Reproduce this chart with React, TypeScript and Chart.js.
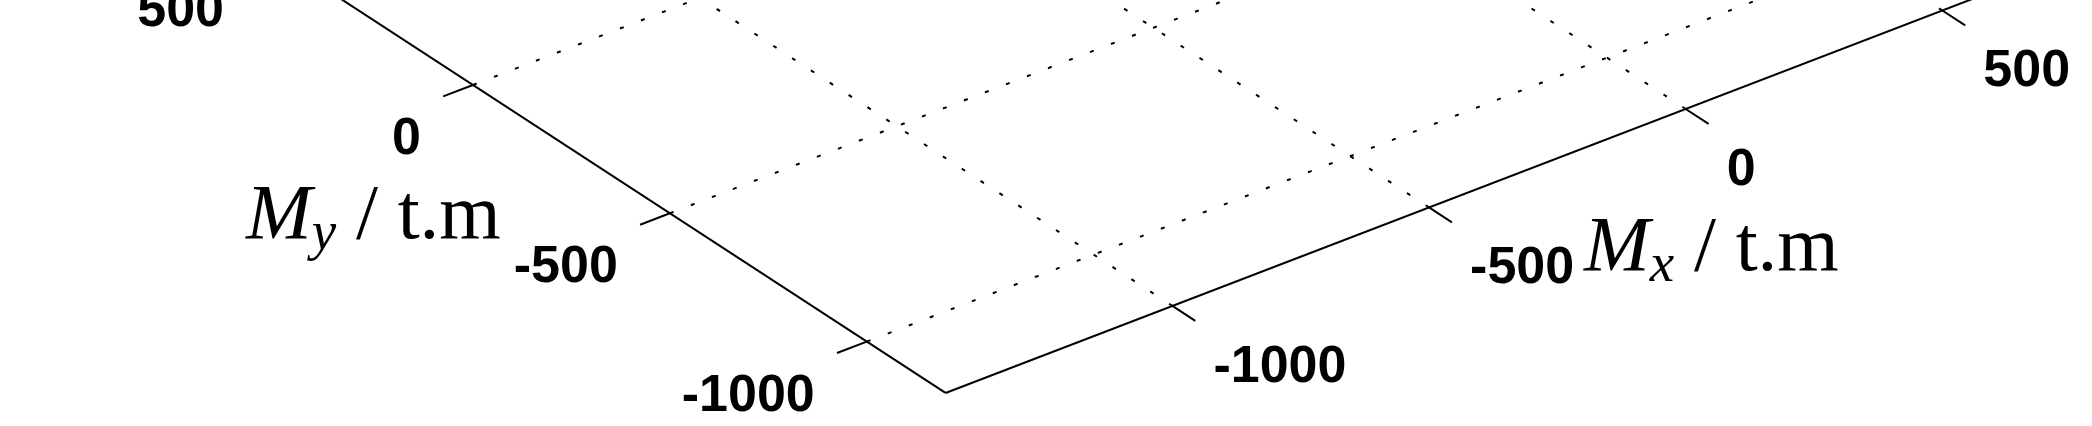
import React, { useEffect, useRef } from "react";
import { Chart, registerables } from "chart.js";

Chart.register(...registerables);

// ---- data ----
const MX_TICKS = [-1000, -500, 0, 500];
const MY_TICKS = [-1000, -500, 0, 500];
const MX_TICK_LABELS = ["-1000", "-500", "0", "500"];
const MY_TICK_LABELS = ["-1000", "-500", "0", "500"];
const MX_LIMITS = [-1442, 1000];
const MY_LIMITS = [-1200, 1000];
const X_TITLE = ["M", "x", " / t.m"];
const Y_TITLE = ["M", "y", " / t.m"];

// ---- view (MATLAB-like default 3D view, orthographic) ----
const AZ = (37.5 * Math.PI) / 180;
const EL = (30 * Math.PI) / 180;
const U_RANGE = [-1875, 1358.5];
const V_RANGE = [-966, -307.6];
const TICK_LEN = 58;

const W = 2092;
const H = 426;

function proj(mx: number, my: number) {
  return {
    x: mx * Math.cos(AZ) - my * Math.sin(AZ),
    y: (mx * Math.sin(AZ) + my * Math.cos(AZ)) * Math.sin(EL),
  };
}

function seg(a: [number, number], b: [number, number]) {
  return [proj(a[0], a[1]), proj(b[0], b[1])];
}

function buildDatasets() {
  const ds: any[] = [];
  const solid = { borderColor: "#000", borderWidth: 2, showLine: true, pointRadius: 0, fill: false };
  const dotted = { borderColor: "#000", borderWidth: 2, borderDash: [4, 18.5], showLine: true, pointRadius: 0, fill: false };
  // grid lines (floor)
  MX_TICKS.forEach((mx) => ds.push({ ...dotted, data: seg([mx, MY_LIMITS[0]], [mx, MY_LIMITS[1]]) }));
  MY_TICKS.forEach((my) => ds.push({ ...dotted, data: seg([MX_LIMITS[0], my], [MX_LIMITS[1], my]) }));
  // axis lines
  ds.push({ ...solid, data: seg([MX_LIMITS[0], MY_LIMITS[0]], [MX_LIMITS[0], MY_LIMITS[1]]) });
  ds.push({ ...solid, data: seg([MX_LIMITS[0], MY_LIMITS[0]], [MX_LIMITS[1], MY_LIMITS[0]]) });
  // tick marks
  MY_TICKS.forEach((my) => ds.push({ ...solid, data: seg([MX_LIMITS[0], my], [MX_LIMITS[0] - TICK_LEN, my]) }));
  MX_TICKS.forEach((mx) => ds.push({ ...solid, data: seg([mx, MY_LIMITS[0]], [mx, MY_LIMITS[0] - TICK_LEN]) }));
  return ds;
}

function drawTitle(ctx: CanvasRenderingContext2D, parts: string[], x: number, y: number) {
  const main = 79;
  const sub = 55;
  ctx.textAlign = "left";
  ctx.textBaseline = "alphabetic";
  ctx.font = `italic ${main}px "Liberation Serif", "Times New Roman", serif`;
  ctx.fillText(parts[0], x, y);
  let cx = x + ctx.measureText(parts[0]).width;
  ctx.font = `italic ${sub}px "Liberation Serif", "Times New Roman", serif`;
  ctx.fillText(parts[1], cx, y + 11);
  cx += ctx.measureText(parts[1]).width;
  ctx.font = `${main}px "Liberation Serif", "Times New Roman", serif`;
  ctx.fillText(parts[2], cx, y);
}

const labelPlugin = {
  id: "floorLabels",
  afterDraw(chart: any) {
    const ctx: CanvasRenderingContext2D = chart.ctx;
    const xs = chart.scales.x;
    const ys = chart.scales.y;
    const px = (mx: number, my: number) => {
      const p = proj(mx, my);
      return [xs.getPixelForValue(p.x), ys.getPixelForValue(p.y)];
    };
    ctx.save();
    ctx.fillStyle = "#000";
    ctx.font = 'bold 52px "Liberation Sans", Arial, sans-serif';
    ctx.textBaseline = "alphabetic";
    ctx.textAlign = "right";
    MY_TICKS.forEach((v, i) => {
      const [x, y] = px(MX_LIMITS[0], v);
      ctx.fillText(MY_TICK_LABELS[i], x - 52, y + 69);
    });
    ctx.textAlign = "left";
    MX_TICKS.forEach((v, i) => {
      const [x, y] = px(v, MY_LIMITS[0]);
      ctx.fillText(MX_TICK_LABELS[i], x + 41, y + 76);
    });
    drawTitle(ctx, Y_TITLE, 246, 238);
    drawTitle(ctx, X_TITLE, 1584, 270);
    ctx.restore();
  },
};

export default function App() {
  const ref = useRef<HTMLCanvasElement | null>(null);
  useEffect(() => {
    if (!ref.current) return;
    const chart = new Chart(ref.current, {
      type: "scatter",
      data: { datasets: buildDatasets() },
      options: {
        animation: false,
        responsive: false,
        maintainAspectRatio: false,
        layout: { padding: 0 },
        plugins: { legend: { display: false }, tooltip: { enabled: false } },
        scales: {
          x: { type: "linear", min: U_RANGE[0], max: U_RANGE[1], display: false },
          y: { type: "linear", min: V_RANGE[0], max: V_RANGE[1], display: false },
        },
      },
      plugins: [labelPlugin],
    });
    return () => chart.destroy();
  }, []);
  return (
    <div style={{ position: "absolute", left: 0, top: 0, width: W, height: H, background: "#fff" }}>
      <canvas ref={ref} width={W} height={H} style={{ display: "block", width: W, height: H }} />
    </div>
  );
}
